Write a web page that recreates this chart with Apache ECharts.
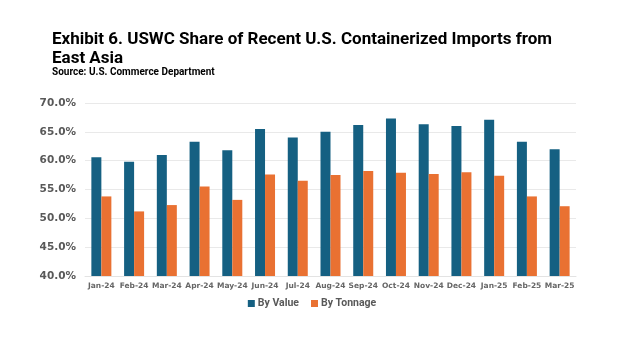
<!DOCTYPE html>
<html>
<head>
<meta charset="utf-8">
<script src="https://cdn.jsdelivr.net/npm/echarts@6/dist/echarts.min.js"></script>
<style>
  html, body { margin: 0; padding: 0; background: #fff; }
  #main { width: 624px; height: 351px; }
</style>
</head>
<body>
<div id="main"></div>
<script>
// month labels along the x axis
const months = ['Jan-24', 'Feb-24', 'Mar-24', 'Apr-24', 'May-24', 'Jun-24', 'Jul-24', 'Aug-24',
  'Sep-24', 'Oct-24', 'Nov-24', 'Dec-24', 'Jan-25', 'Feb-25', 'Mar-25'];
// share of imports, percent
const byValue = [60.6, 59.8, 61.0, 63.3, 61.8, 65.5, 64.0, 65.0, 66.2, 67.3, 66.3, 66.0, 67.1, 63.3, 62.0];
const byTonnage = [53.8, 51.2, 52.3, 55.5, 53.2, 57.6, 56.5, 57.5, 58.2, 57.9, 57.7, 58.0, 57.4, 53.8, 52.1];

const chart = echarts.init(document.getElementById('main'), null, { renderer: 'canvas' });

const grey = '#595959';
let option = {
  backgroundColor: '#fff',
  animation: false,
  title: [
    {
      text: 'Exhibit 6. USWC Share of Recent U.S. Containerized Imports from\nEast Asia',
      left: 47, top: 25,
      textStyle: { fontFamily: 'Roboto', fontWeight: 'bold', fontSize: 17, lineHeight: 19, color: '#000' }
    },
    {
      text: 'Source: U.S. Commerce Department',
      left: 47, top: 62,
      textStyle: { fontFamily: 'Roboto', fontWeight: 'bold', fontSize: 10, color: '#000' }
    }
  ],
  legend: {
    bottom: 37,
    left: 'center',
    itemWidth: 7, itemHeight: 7,
    itemGap: 12,
    icon: 'rect',
    textStyle: { fontFamily: 'Roboto', fontWeight: 'bold', fontSize: 10.5, color: grey, padding: [0, 0, 0, -2] },
    data: ['By Value', 'By Tonnage']
  },
  grid: { left: 85, right: 48, top: 103, bottom: 75, containLabel: false },
  xAxis: {
    type: 'category',
    data: months,
    axisLine: { lineStyle: { color: '#e3e3e3' } },
    axisTick: { show: false },
    axisLabel: { fontFamily: 'Verdana, DejaVu Sans', fontWeight: 'bold', fontSize: 7.5, color: '#666', margin: 6, interval: 0 }
  },
  yAxis: {
    type: 'value',
    min: 40, max: 70, interval: 5,
    axisLine: { show: false },
    axisTick: { show: false },
    splitLine: { lineStyle: { color: '#e9e9e9' } },
    axisLabel: {
      fontFamily: 'Verdana, DejaVu Sans', fontWeight: 'bold', fontSize: 10.5, color: grey, margin: 9,
      formatter: v => v.toFixed(1) + '%'
    }
  },
  series: [
    {
      name: 'By Value', type: 'bar', data: byValue,
      barWidth: 10, barGap: '0%',
      itemStyle: { color: '#156082' }
    },
    {
      name: 'By Tonnage', type: 'bar', data: byTonnage,
      barWidth: 10,
      itemStyle: { color: '#E97132' }
    }
  ]
};
chart.setOption(option);
</script>
</body>
</html>
